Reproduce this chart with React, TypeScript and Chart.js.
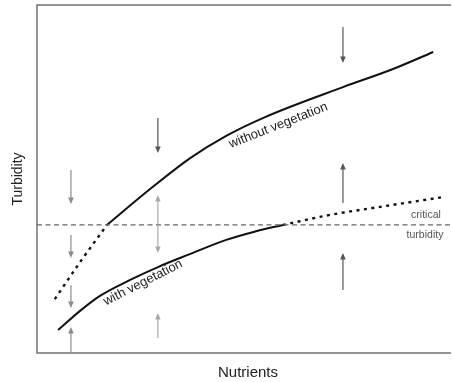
import React, { useEffect, useRef } from "react";
import { Chart, registerables } from "chart.js";

Chart.register(...registerables);

// ---- data (conceptual units, 0..100 on both axes) ----
const xAxisTitle = "Nutrients";
const yAxisTitle = "Turbidity";
const criticalTurbidity = 36.8;
const criticalLabel = ["critical", "turbidity"];

const withoutVegSolidX = [16.9, 26.8, 37.0, 45.7, 55.1, 73.9, 86.0, 95.7];
const withoutVegSolidY = [36.8, 46.6, 56.0, 62.4, 67.8, 76.4, 81.6, 86.5];
const withoutVegDottedX = [4.3, 10.4, 16.9];
const withoutVegDottedY = [15.5, 26.1, 36.8];

const withVegSolidX = [5.1, 10.4, 15.2, 22.5, 29.2, 36.9, 45.7, 52.7, 59.4];
const withVegSolidY = [6.6, 12.1, 16.4, 21.0, 24.7, 28.4, 32.5, 34.9, 36.8];
const withVegDottedX = [59.4, 70.8, 82.9, 98.1];
const withVegDottedY = [36.8, 39.7, 42.0, 44.8];

const arrowX = [8.2, 8.2, 8.2, 8.2, 29.2, 29.2, 29.2, 29.2, 73.9, 73.9, 73.9];
const arrowFrom = [52.6, 33.9, 19.5, 0.3, 67.5, 37.1, 36.5, 4.3, 93.7, 43.1, 18.1];
const arrowTo = [42.8, 27.3, 12.9, 7.5, 57.5, 45.4, 28.7, 11.5, 83.3, 54.6, 28.7];
const arrowShade = ["#8a8a8a", "#8a8a8a", "#8a8a8a", "#8a8a8a", "#555", "#aaa", "#aaa", "#aaa", "#555", "#555", "#555"];

const curveLabels = ["without vegetation", "with vegetation"];
const curveLabelX = [58.6, 26.0];
const curveLabelY = [64.4, 19.3];

const FONT = "'Liberation Sans', Arial, Helvetica, sans-serif";

function pts(xs: number[], ys: number[]) {
  return xs.map((x, i) => ({ x, y: ys[i] }));
}

const annotations = {
  id: "annotations",
  afterDatasetsDraw(chart: any) {
    const { ctx, chartArea, scales } = chart;
    const xs = scales.x;
    const ys = scales.y;
    ctx.save();

    // frame: left, top, bottom
    ctx.strokeStyle = "#707070";
    ctx.lineWidth = 1.5;
    ctx.beginPath();
    ctx.moveTo(chartArea.right, chartArea.top);
    ctx.lineTo(chartArea.left, chartArea.top);
    ctx.lineTo(chartArea.left, chartArea.bottom);
    ctx.lineTo(chartArea.right, chartArea.bottom);
    ctx.stroke();

    // arrows
    arrowX.forEach((ax, i) => {
      const px = xs.getPixelForValue(ax);
      const p0 = ys.getPixelForValue(arrowFrom[i]);
      const p1 = ys.getPixelForValue(arrowTo[i]);
      const dir = p1 > p0 ? 1 : -1;
      ctx.strokeStyle = arrowShade[i];
      ctx.fillStyle = arrowShade[i];
      ctx.lineWidth = 1.2;
      ctx.beginPath();
      ctx.moveTo(px, p0);
      ctx.lineTo(px, p1 - dir * 4);
      ctx.stroke();
      ctx.beginPath();
      ctx.moveTo(px, p1);
      ctx.lineTo(px - 2.8, p1 - dir * 6.5);
      ctx.lineTo(px + 2.8, p1 - dir * 6.5);
      ctx.closePath();
      ctx.fill();
    });

    // curve labels
    const angles = [-21.5, -27];
    ctx.fillStyle = "#222";
    ctx.font = `13px ${FONT}`;
    ctx.textAlign = "center";
    ctx.textBaseline = "alphabetic";
    curveLabels.forEach((t, i) => {
      const px = xs.getPixelForValue(curveLabelX[i]);
      const py = ys.getPixelForValue(curveLabelY[i]);
      ctx.save();
      ctx.translate(px, py);
      ctx.rotate((angles[i] * Math.PI) / 180);
      ctx.fillText(t, 0, 0);
      ctx.restore();
    });

    // critical turbidity label
    const cy = ys.getPixelForValue(criticalTurbidity);
    ctx.fillStyle = "#555";
    ctx.font = `10.5px ${FONT}`;
    ctx.textAlign = "center";
    ctx.fillText(criticalLabel[0], 426, cy - 7);
    ctx.fillText(criticalLabel[1], 425, cy + 13);

    // axis titles
    ctx.fillStyle = "#222";
    ctx.font = `15px ${FONT}`;
    ctx.textAlign = "center";
    ctx.textBaseline = "alphabetic";
    ctx.fillText(xAxisTitle, (chartArea.left + chartArea.right) / 2 + 4, chartArea.bottom + 24);
    ctx.save();
    ctx.translate(22, (chartArea.top + chartArea.bottom) / 2);
    ctx.rotate(-Math.PI / 2);
    ctx.font = `14px ${FONT}`;
    ctx.fillText(yAxisTitle, 0, 0);
    ctx.restore();

    ctx.restore();
  },
};

export default function App() {
  const ref = useRef<HTMLCanvasElement | null>(null);
  useEffect(() => {
    if (!ref.current) return;
    const base = {
      showLine: true,
      pointRadius: 0,
      fill: false,
      cubicInterpolationMode: "monotone" as const,
      borderColor: "#111",
    };
    const chart = new Chart(ref.current, {
      type: "scatter",
      data: {
        datasets: [
          {
            ...base,
            label: "critical",
            data: [
              { x: 0, y: criticalTurbidity },
              { x: 100, y: criticalTurbidity },
            ],
            borderColor: "#666",
            borderWidth: 1.2,
            borderDash: [5, 3.5],
          },
          { ...base, label: "without vegetation", data: pts(withoutVegSolidX, withoutVegSolidY), borderWidth: 2 },
          {
            ...base,
            label: "without vegetation (unstable)",
            data: pts(withoutVegDottedX, withoutVegDottedY),
            borderWidth: 2.4,
            borderDash: [3, 4.5],
          },
          { ...base, label: "with vegetation", data: pts(withVegSolidX, withVegSolidY), borderWidth: 2 },
          {
            ...base,
            label: "with vegetation (unstable)",
            data: pts(withVegDottedX, withVegDottedY),
            borderWidth: 2.4,
            borderDash: [3, 4.5],
          },
        ],
      },
      options: {
        animation: false,
        responsive: false,
        maintainAspectRatio: false,
        layout: { padding: { left: 37, right: 1, top: 5, bottom: 29 } },
        plugins: { legend: { display: false }, tooltip: { enabled: false } },
        scales: {
          x: { type: "linear", min: 0, max: 100, display: false },
          y: { type: "linear", min: 0, max: 100, display: false },
        },
      },
      plugins: [annotations],
    });
    return () => chart.destroy();
  }, []);
  return (
    <div style={{ position: "absolute", left: 0, top: 0, width: 452, height: 382, background: "#fff" }}>
      <canvas ref={ref} width={452} height={382} style={{ width: 452, height: 382, display: "block" }} />
    </div>
  );
}
